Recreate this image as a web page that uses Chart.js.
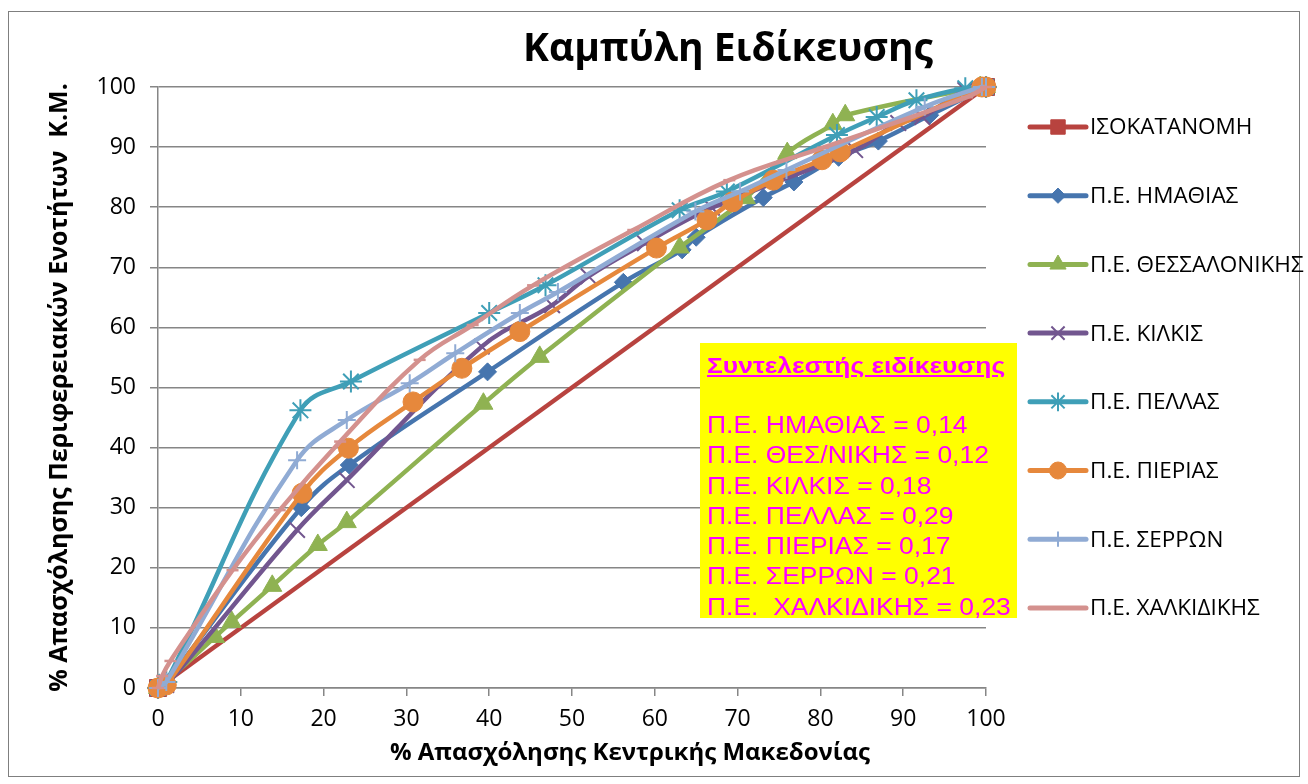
<!DOCTYPE html>
<html><head><meta charset="utf-8">
<script src="https://cdn.jsdelivr.net/npm/chart.js"></script>
<style>
html,body{margin:0;padding:0;background:#fff;}
#wrap{position:relative;width:1308px;height:784px;overflow:hidden;}
#c{position:absolute;left:0;top:0;}
#box{position:absolute;left:700px;top:343px;width:317px;height:275px;background:#ffff00;color:#ff00ff;
  font-family:"Liberation Sans",Arial,sans-serif;box-sizing:border-box;padding:8px 0 0 7px;}
#box .hd{font-weight:bold;font-size:22px;line-height:30px;text-decoration:underline;white-space:nowrap;transform:scaleX(1.2);transform-origin:left center;}
#box .ln{font-size:23px;line-height:30.3px;white-space:pre;transform:scaleX(1.15);transform-origin:left center;}
#box .sp{height:29px;}
</style></head>
<body><div id="wrap"><canvas id="c" width="1308" height="784"></canvas>
<div id="box">
<div class="hd">Συντελεστής ειδίκευσης</div>
<div class="sp"></div>
<div id="lines"></div>
</div></div>
<script>
const seriesNames = ["ΙΣΟΚΑΤΑΝΟΜΗ","Π.Ε. ΗΜΑΘΙΑΣ","Π.Ε. ΘΕΣΣΑΛΟΝΙΚΗΣ","Π.Ε. ΚΙΛΚΙΣ","Π.Ε. ΠΕΛΛΑΣ","Π.Ε. ΠΙΕΡΙΑΣ","Π.Ε. ΣΕΡΡΩΝ","Π.Ε. ΧΑΛΚΙΔΙΚΗΣ"];
const isoX = [0, 100];
const isoY = [0, 100];
const imathiaX = [0, 1, 17.3, 23.1, 39.8, 56.2, 63.3, 65, 73.1, 76.8, 82.2, 87, 93.2, 100];
const imathiaY = [0, 1, 30, 37.1, 52.6, 67.5, 72.9, 75, 81.6, 84.2, 88.3, 91, 95.3, 100];
const thessX = [0, 0.8, 6.9, 8.9, 13.8, 19.3, 22.8, 39.3, 46.1, 63, 71, 76, 81.5, 83, 99.3, 100];
const thessY = [0, 0.8, 8.5, 11, 17, 23.8, 27.6, 47.3, 55.1, 73.3, 81.5, 89, 93.8, 95.3, 100, 100];
const kilkisX = [0, 1, 16.8, 22.8, 39.1, 47.6, 52, 58.8, 66.9, 84.2, 89.4, 92.3, 97.5, 100];
const kilkisY = [0, 0.5, 26.3, 34.6, 56.8, 63.7, 68.5, 74, 79.9, 89.5, 94, 95, 99.5, 100];
const pellaX = [0, 1, 17.2, 23.3, 40, 46.8, 63, 68.7, 82, 86.8, 91.6, 97.5, 100];
const pellaY = [0, 1, 46.2, 51, 62.4, 67, 79.5, 82.6, 92, 95, 97.8, 99.8, 100];
const pieriaX = [0, 1, 17.4, 23, 30.8, 36.7, 43.7, 60.2, 66.3, 69.4, 74.3, 80.2, 82.4, 99.5, 100];
const pieriaY = [0, 0.5, 32.4, 39.9, 47.6, 53.2, 59.3, 73.2, 77.9, 80.9, 84.5, 87.9, 89.2, 100, 100];
const serronX = [0, 1, 16.8, 22.8, 30.4, 35.9, 43.7, 48.3, 64.9, 70.3, 75.9, 92.6, 99.5, 100];
const serronY = [0, 1, 37.9, 44.6, 50.7, 55.7, 62.4, 65.9, 79.3, 82.6, 86.2, 96.7, 100, 100];
const chalkX = [0, 0.5, 1.5, 9, 14.7, 22, 31.6, 38, 45.3, 57.4, 69, 80.3, 97.7, 100];
const chalkY = [0, 2, 4.5, 19.6, 29.6, 41, 54.6, 60.4, 67, 76.2, 84.5, 89.9, 98.3, 100];
const xTicks = [0,10,20,30,40,50,60,70,80,90,100];
const yTicks = [0,10,20,30,40,50,60,70,80,90,100];
const coefLabels = ["Π.Ε. ΗΜΑΘΙΑΣ = 0,14","Π.Ε. ΘΕΣ/ΝΙΚΗΣ = 0,12","Π.Ε. ΚΙΛΚΙΣ = 0,18","Π.Ε. ΠΕΛΛΑΣ = 0,29","Π.Ε. ΠΙΕΡΙΑΣ = 0,17","Π.Ε. ΣΕΡΡΩΝ = 0,21","Π.Ε.  ΧΑΛΚΙΔΙΚΗΣ = 0,23"];
const chartTitle = 'Καμπύλη Ειδίκευσης';
const xTitle = '% Απασχόλησης Κεντρικής Μακεδονίας';
const yTitle = '% Απασχόλησης Περιφερειακών Ενοτήτων  Κ.Μ.';

const xs = [isoX, imathiaX, thessX, kilkisX, pellaX, pieriaX, serronX, chalkX];
const ys = [isoY, imathiaY, thessY, kilkisY, pellaY, pieriaY, serronY, chalkY];
const colors = ["#B8433F","#4675AE","#8FB252","#72568F","#3F9FB7","#E6883C","#90ABD4","#D4918E"];
const styles = ["rect","rectRot","triangle","crossRot","star","circle","cross","line"];
const radii = [12, 9, 11, 11, 11, 10, 9, 6];
const pbw = [1, 1, 1, 2, 2, 1, 2, 2.5];

document.getElementById('lines').innerHTML = coefLabels.map(t => '<div class="ln">' + t + '</div>').join('');

const FONT = "'Open Sans','Noto Sans','DejaVu Sans',sans-serif";

const datasets = seriesNames.map((n, i) => ({
  label: n,
  data: xs[i].map((x, k) => ({x: x, y: ys[i][k]})),
  borderColor: colors[i],
  backgroundColor: colors[i],
  pointBackgroundColor: colors[i],
  pointBorderColor: colors[i],
  pointStyle: styles[i],
  pointRadius: radii[i],
  pointBorderWidth: pbw[i],
  borderWidth: 4.5,
  tension: i === 0 ? 0 : 0.4,
  fill: false,
  clip: false,
  order: 10 - i
}));

const decor = {
  id: 'decor',
  afterDraw(chart) {
    const ctx = chart.ctx;
    ctx.save();
    ctx.strokeStyle = '#7f7f7f';
    ctx.lineWidth = 1;
    ctx.strokeRect(8.5, 11.5, 1291, 765);
    ctx.fillStyle = '#000';
    ctx.font = "bold 39px " + FONT;
    ctx.textAlign = 'center';
    ctx.textBaseline = 'middle';
    ctx.fillText(chartTitle, 728, 50);
    ctx.font = "bold 24px " + FONT;
    ctx.fillText(xTitle, 630, 753);
    // legend
    const x0 = 1030, x1 = 1086, tx = 1090;
    chart.data.datasets.forEach((ds, i) => {
      const y = 127 + i * 68.7;
      ctx.strokeStyle = ds.borderColor;
      ctx.lineWidth = 5;
      ctx.lineCap = 'round';
      ctx.beginPath(); ctx.moveTo(x0, y); ctx.lineTo(x1, y); ctx.stroke();
      ctx.lineCap = 'butt';
      ctx.fillStyle = ds.borderColor;
      ctx.strokeStyle = ds.borderColor;
      ctx.lineWidth = ds.pointBorderWidth;
      if (Chart.helpers && Chart.helpers.drawPoint) {
        Chart.helpers.drawPoint(ctx, {pointStyle: ds.pointStyle, radius: ds.pointRadius * 0.85, rotation: 0, borderWidth: ds.pointBorderWidth}, (x0 + x1) / 2, y);
      }
      ctx.fillStyle = '#000';
      ctx.font = "22.5px " + FONT;
      ctx.textAlign = 'left';
      ctx.textBaseline = 'middle';
      ctx.fillText(ds.label, tx, y + 1);
    });
    ctx.restore();
  }
};

new Chart(document.getElementById('c'), {
  type: 'line',
  data: { datasets: datasets },
  options: {
    responsive: false,
    animation: false,
    layout: { padding: { left: 42, top: 87, right: 322, bottom: 14 } },
    plugins: { legend: { display: false }, title: { display: false }, tooltip: { enabled: false } },
    scales: {
      x: {
        type: 'linear', min: 0, max: 100,
        afterFit(s) { s.height = 82; },
        afterBuildTicks(s) { s.ticks = xTicks.map(v => ({value: v})); },
        grid: { drawOnChartArea: false, drawTicks: true, tickLength: 8, color: '#868686', lineWidth: 1.5 },
        border: { color: '#868686', width: 1.5 },
        ticks: { color: '#000', font: { family: FONT, size: 23 }, padding: 10, maxRotation: 0 },
        title: { display: false }
      },
      y: {
        type: 'linear', min: 0, max: 100,
        afterFit(s) { s.width = 116; },
        afterBuildTicks(s) { s.ticks = yTicks.map(v => ({value: v})); },
        grid: { color: '#868686', lineWidth: 1.5, tickLength: 8 },
        border: { color: '#868686', width: 1.5 },
        ticks: { color: '#000', font: { family: FONT, size: 23 }, padding: 14 },
        title: { display: true, text: yTitle, color: '#000', font: { family: FONT, size: 25, weight: 'bold' }, padding: 3 }
      }
    }
  },
  plugins: [decor]
});
</script></body></html>
